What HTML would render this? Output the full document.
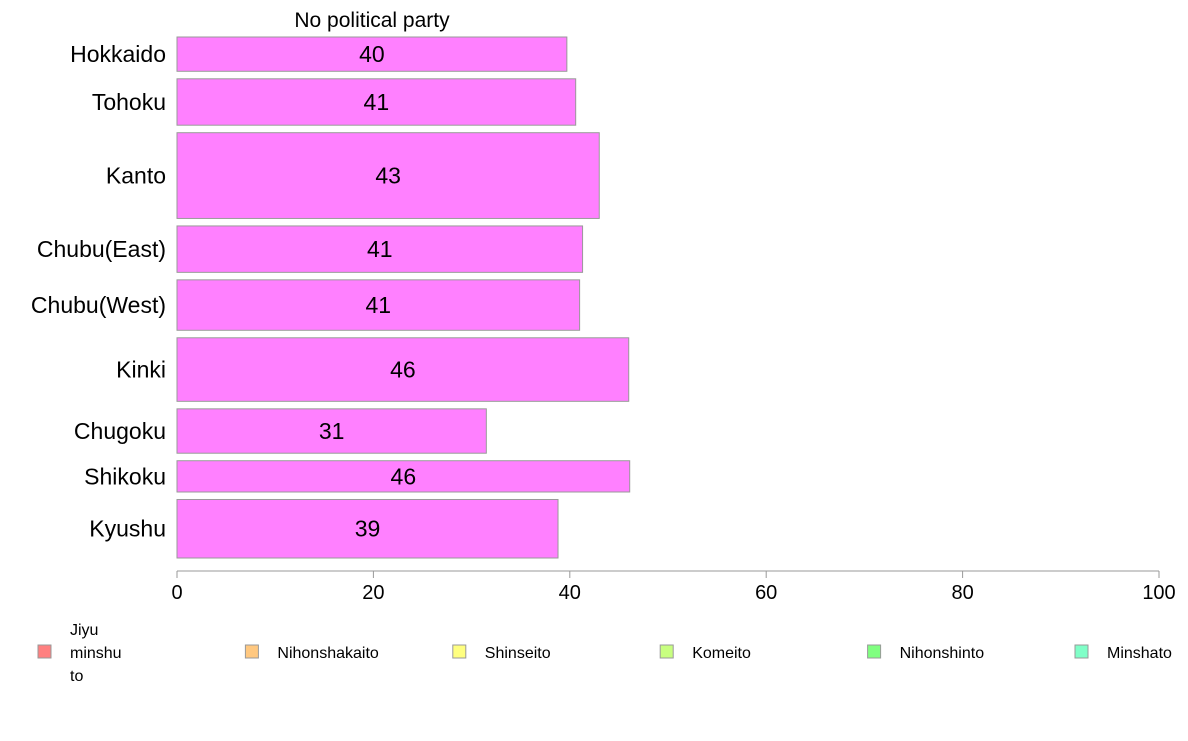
<!DOCTYPE html>
<html><head><meta charset="utf-8"><style>
body{margin:0;background:#fff;font-family:"Liberation Sans",sans-serif}
</style></head><body>
<svg id="c" width="1188" height="736" xmlns="http://www.w3.org/2000/svg" font-family="Liberation Sans, sans-serif"></svg>
<script>
const categories=["Hokkaido","Tohoku","Kanto","Chubu(East)","Chubu(West)","Kinki","Chugoku","Shikoku","Kyushu"];
const values=[39.7,40.6,43.0,41.3,41.0,46.0,31.5,46.1,38.8];
const labels=["40","41","43","41","41","46","31","46","39"];
const weights=[34,46,85,46,50,63,44,31,58];
const ticks=[0,20,40,60,80,100];
const legendNames=["Jiyu\nminshu\nto","Nihonshakaito","Shinseito","Komeito","Nihonshinto","Minshato"];
const legendColors=["#ff8080","#ffc880","#ffff80","#c8ff80","#80ff80","#80ffc8"];
const svg=document.getElementById('c');const NS="http://www.w3.org/2000/svg";
function mk(t,a,p){const e=document.createElementNS(NS,t);for(const k in a)e.setAttribute(k,a[k]);(p||svg).appendChild(e);return e;}
const x0=177,x1=1159,xs=v=>x0+(x1-x0)*v/100;
const yTop=37,yBot=558,gap=7.5;
const tw=weights.reduce((a,b)=>a+b,0);const scale=(yBot-yTop-gap*(weights.length-1))/tw;
let t=mk('text',{x:372,y:27,'font-size':21,'text-anchor':'middle'});t.textContent="No political party";


let y=yTop;
categories.forEach((c,i)=>{const h=weights[i]*scale;
const r=mk('rect',{x:x0,y:y,width:xs(values[i])-x0,height:h,fill:'#ff80ff',stroke:'#999','stroke-width':1});


const l=mk('text',{x:(x0+xs(values[i]))/2,y:y+h/2+8,'font-size':23,'text-anchor':'middle'});l.textContent=labels[i];


const n=mk('text',{x:166,y:y+h/2+8,'font-size':23,'text-anchor':'end'});n.textContent=c;


y+=h+gap;});
const ax=mk('line',{x1:x0,x2:x1,y1:571,y2:571,stroke:'#999'});


ticks.forEach(v=>{const tk=mk('line',{x1:xs(v),x2:xs(v),y1:571,y2:578,stroke:'#999'});


const tl=mk('text',{x:xs(v),y:599,'font-size':20,'text-anchor':'middle'});tl.textContent=v;

});
legendNames.forEach((n,i)=>{const lx=38+i*207.4;
const g=mk('g',{});


mk('rect',{x:lx,y:645,width:13,height:13,fill:legendColors[i],stroke:'#999'},g);
const lines=n.split('\n');
lines.forEach((s,j)=>{const tt=mk('text',{x:lx+32,y:658+(j-(lines.length-1)/2)*23,'font-size':16},g);tt.textContent=s;});});
</script>
</body></html>
